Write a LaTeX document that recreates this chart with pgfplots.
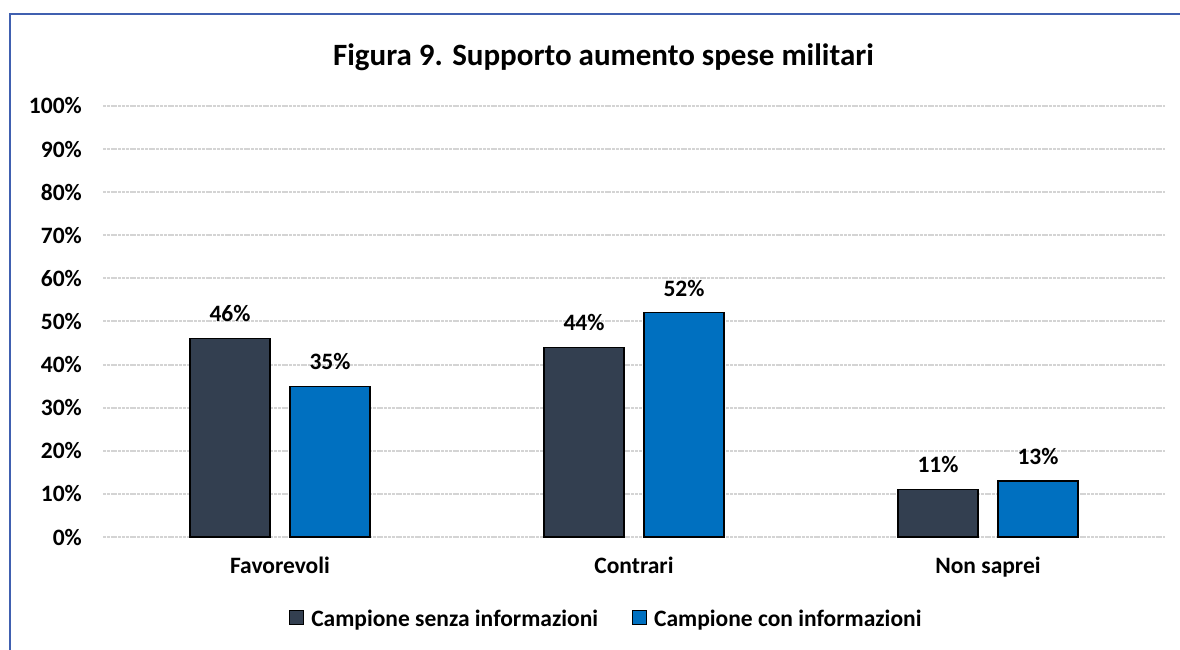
\documentclass[border=0pt]{standalone}
\usepackage{pgfplots}
\pgfplotsset{compat=1.18}
\usepackage{fontspec}
\setmainfont{Carlito}
\definecolor{darkbar}{HTML}{333F50}
\definecolor{bluebar}{HTML}{0070C0}
\definecolor{framecol}{HTML}{4060B0}
\definecolor{gridcol}{HTML}{D4D4D4}
\begin{document}
\begin{tikzpicture}[x=1pt,y=1pt]
\path[use as bounding box] (0,0) rectangle (1180,650);
\draw[framecol, line width=1.5pt] (10,0) -- (10,636) -- (1180,636);
\node[anchor=base, font=\fontsize{31}{36}\selectfont\bfseries] at (603.5,584) {Figura 9. Supporto aumento spese militari};
\begin{axis}[
  at={(103pt,113pt)}, anchor=south west,
  scale only axis, width=1062pt, height=431pt,
  ybar=20pt, bar width=80pt,
  xmin=-0.5, xmax=2.5, ymin=0, ymax=100,
  enlargelimits=false,
  xtick={0,1,2},
  xticklabels={Favorevoli,Contrari,Non saprei},
  ytick={0,10,...,100},
  yticklabel={\pgfmathprintnumber[assume math mode=true]{\tick}\%},
  axis line style={draw=none},
  major tick length=0pt,
  ymajorgrids,
  major grid style={gridcol, line width=2pt, dash pattern=on 3pt off 0.8pt},
  tick label style={font=\fontsize{23.5}{28}\selectfont\bfseries, inner sep=0pt},
  yticklabel style={anchor=east, xshift=-21pt},
  xticklabel style={anchor=north, yshift=-20pt},
  nodes near coords={\pgfmathprintnumber[assume math mode=true]{\pgfplotspointmeta}\%},
  every node near coord/.append style={font=\fontsize{23.5}{28}\selectfont\bfseries, inner sep=0pt, anchor=south, yshift=16pt, black},
  legend columns=2,
  legend style={draw=none, at={(0.474,-0.19)}, anchor=center, font=\fontsize{23.5}{28}\selectfont\bfseries,
    /tikz/every odd column/.append style={column sep=5pt},
    /tikz/every even column/.append style={column sep=32pt}},
  legend image code/.code={\draw[#1, draw=black, line width=1pt] (0pt,-6pt) rectangle (14pt,8pt);},
  clip=false,
]
\addplot[fill=darkbar, draw=black, line width=1.2pt] coordinates {(0,46) (1,44) (2,11)};
\addplot[fill=bluebar, draw=black, line width=1.2pt] coordinates {(0,35) (1,52) (2,13)};
\legend{Campione senza informazioni, Campione con informazioni}
\end{axis}
\end{tikzpicture}
\end{document}
